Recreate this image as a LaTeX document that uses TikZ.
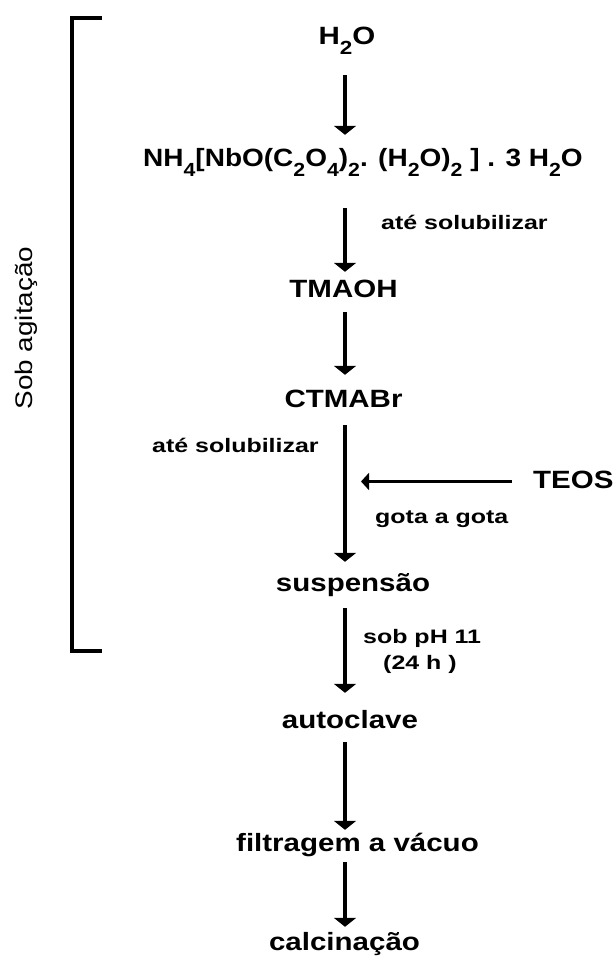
\documentclass[tikz,border=0pt]{standalone}
\usepackage{fontspec}
\setmainfont{Liberation Sans}
\newfontfamily\labfont[FakeStretch=1.18]{Liberation Sans}
\newfontfamily\formfont[FakeStretch=1.12]{Liberation Sans}
\newfontfamily\notefont[FakeStretch=1.28]{Liberation Sans}
\newfontfamily\sidefont[FakeStretch=1.16]{Liberation Sans}
\usetikzlibrary{arrows.meta}
\newcommand{\sbs}[1]{\raisebox{-0.4em}{\fontsize{19}{21}\selectfont #1}}
\tikzset{
  lab/.style={inner sep=0pt, anchor=base, text height=18pt, text depth=5pt,
    font=\labfont\bfseries\fontsize{25}{30}\selectfont},
  formula/.style={lab, anchor=base west, font=\formfont\bfseries\fontsize{25}{30}\selectfont},
  note/.style={inner sep=0pt, anchor=base west, font=\notefont\bfseries\fontsize{19.5}{23}\selectfont},
  side/.style={inner sep=0pt, rotate=90, font=\sidefont\fontsize{24}{28}\selectfont},
  arr/.style={line width=3.5pt, -{Triangle[width=22pt,length=9pt]}},
  brk/.style={line width=4pt, line cap=rect}
}
\begin{document}
\begin{tikzpicture}[x=1pt,y=-1pt]
\useasboundingbox (0,0) rectangle (614,957);
\coordinate (ax) at (345,0);
% main chain
\node[lab] (h2o) at (347,45) {H\sbs{2}O};
\node[formula] (nh4) at (143,167) {NH\sbs{4}[NbO(C\sbs{2}O\sbs{4})\sbs{2}. (H\sbs{2}O)\sbs{2} ] . 3 H\sbs{2}O};
\node[lab] (tmaoh) at (343.5,298) {TMAOH};
\node[lab] (ctmabr) at (343.5,407) {CTMABr};
\node[lab] (susp) at (353,591) {suspensão};
\node[lab] (auto) at (350,728) {autoclave};
\node[lab] (filt) at (357.5,851) {filtragem a vácuo};
\node[lab] (calc) at (344.5,950) {calcinação};
\node[lab, anchor=base west] (teos) at (533,488) {TEOS};
% notes
\node[note] (n1) at (381,230) {até solubilizar};
\node[note] (n2) at (152,452) {até solubilizar};
\node[note] (n3) at (375,523) {gota a gota};
\node[note] (n4) at (363,643) {sob pH 11};
\node[note] (n5) at (383,669) {(24 h )};
\node[side] (sob) at (26,328) {Sob agitação};
% arrows
\draw[arr, shorten <=25pt, shorten >=14pt] (h2o.south -| ax) -- (nh4.north -| ax);
\draw[arr, shorten <=36pt, shorten >=8pt] (nh4.south -| ax) -- (tmaoh.north -| ax);
\draw[arr, shorten <=9pt, shorten >=14pt] (tmaoh.south -| ax) -- (ctmabr.north -| ax);
\draw[arr, shorten <=13pt, shorten >=11pt] (ctmabr.south -| ax) -- (susp.north -| ax);
\draw[arr, shorten <=12pt, shorten >=17pt] (susp.south -| ax) -- (auto.north -| ax);
\draw[arr, shorten <=9pt, shorten >=3pt] (auto.south -| ax) -- (filt.north -| ax);
\draw[arr, shorten <=6pt, shorten >=5pt] (filt.south -| ax) -- (calc.north -| ax);
\draw[line width=3pt, -{Triangle[width=17pt,length=8pt]}, shorten <=21pt, shorten >=16pt] (teos.west) -- (teos.west -| ax);
% bracket
\draw[brk] (100,18) -- (72,18) -- (72,651) -- (100,651);
\end{tikzpicture}
\end{document}
